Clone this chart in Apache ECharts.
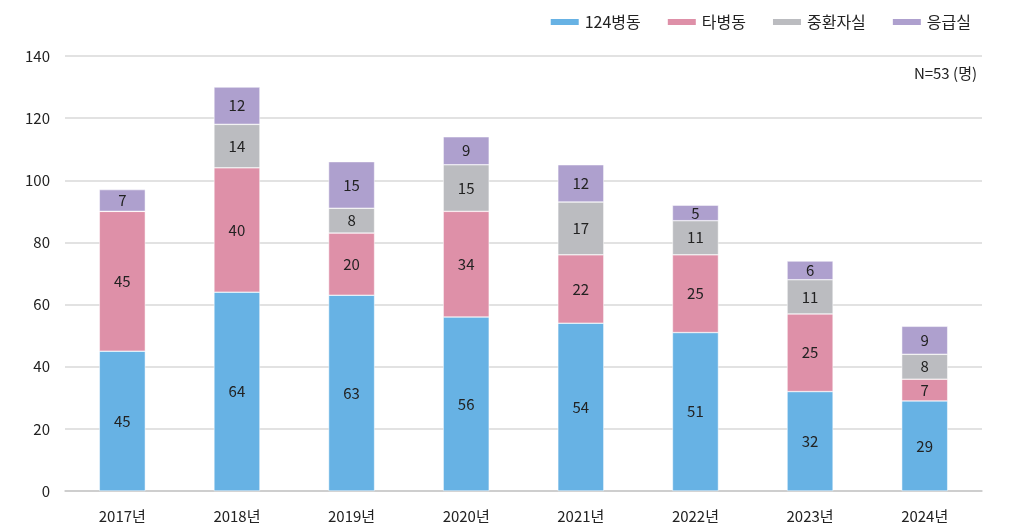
<!DOCTYPE html>
<html><head><meta charset="utf-8">
<script src="https://cdn.jsdelivr.net/npm/echarts@6/dist/echarts.min.js"></script>
<style>html,body{margin:0;padding:0;background:#fff}#c{width:1020px;height:532px}</style>
</head><body><div id="c"></div>
<script>
var categories = ['2017년','2018년','2019년','2020년','2021년','2022년','2023년','2024년'];
var ward124 = [45, 64, 63, 56, 54, 51, 32, 29];
var otherWard = [45, 40, 20, 34, 22, 25, 25, 7];
var icu = [0, 14, 8, 15, 17, 11, 11, 8];
var er = [7, 12, 15, 9, 12, 5, 6, 9];
var seriesNames = ['124병동','타병동','중환자실','응급실'];
var colors = ['#67B2E4','#DE90A8','#BBBCC0','#AEA0CE'];
var font = '"Noto Sans CJK KR","Noto Sans",sans-serif';
function mk(name, data, color){
  return {name:name, type:'bar', stack:'a', data:data, barWidth:46,
    itemStyle:{color:color, borderColor:'#fff', borderWidth:0.5},
    label:{show:true, position:'inside', color:'#222', fontSize:15, fontFamily:font,
      formatter:function(p){return p.value ? p.value : '';}}};
}
var chart = echarts.init(document.getElementById('c'));
chart.setOption({
  animation:false,
  legend:{right:44, top:9, itemWidth:30, itemHeight:8, itemGap:25,
    textStyle:{fontSize:16, color:'#222', fontFamily:font},
    data:seriesNames.map(function(n,i){return {name:n, icon:'rect'};})},
  graphic:[{type:'text', right:43, top:66, style:{text:'N=53 (명)', fontSize:15, fill:'#222', fontFamily:font}}],
  grid:{left:65, right:38, top:56, bottom:41},
  xAxis:{type:'category', data:categories,
    axisLine:{lineStyle:{color:'#c8c8c8', width:1.5}}, axisTick:{show:false},
    axisLabel:{color:'#222', fontSize:15, fontFamily:font, margin:18}},
  yAxis:{type:'value', min:0, max:140, interval:20,
    axisLine:{show:false}, axisTick:{show:false},
    splitLine:{lineStyle:{color:'#d9d9d9', width:1.5}},
    axisLabel:{color:'#222', fontSize:15, fontFamily:font, margin:15}},
  series:[mk(seriesNames[0], ward124, colors[0]), mk(seriesNames[1], otherWard, colors[1]),
          mk(seriesNames[2], icu, colors[2]), mk(seriesNames[3], er, colors[3])]
});
</script></body></html>
